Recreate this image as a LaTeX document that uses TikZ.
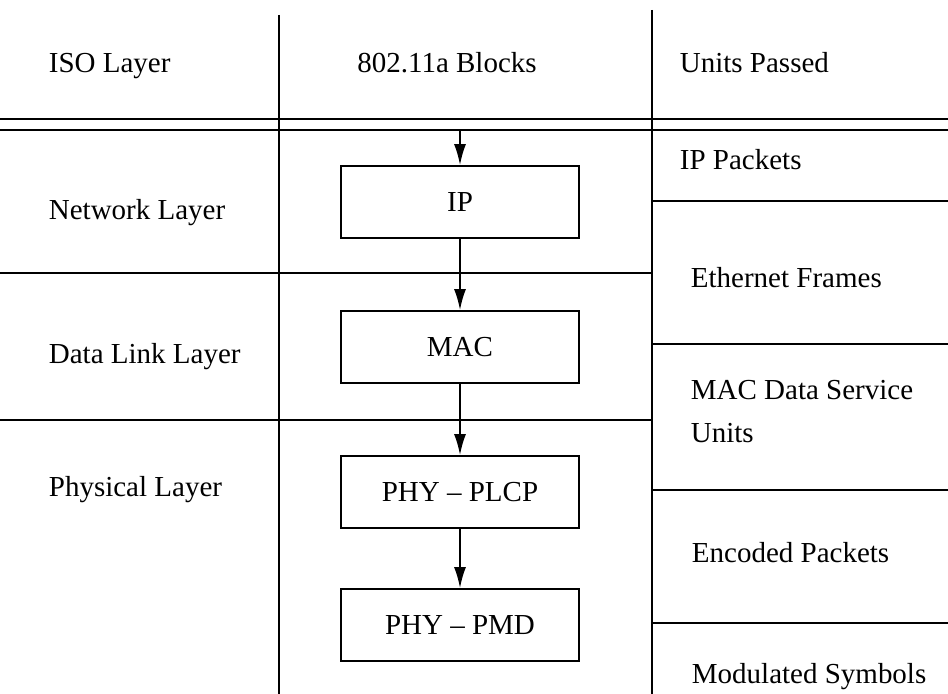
\documentclass[tikz,border=0pt]{standalone}
\usepackage{fontspec}
\setmainfont{Liberation Serif}
\usetikzlibrary{arrows.meta,positioning}

\begin{document}
\begin{tikzpicture}[x=0.5pt,y=-0.5pt,>={Latex[length=10.5pt,width=6pt]},
    font=\fontsize{14.5}{17.5}\selectfont,line width=0.9pt,
    blk/.style={draw,minimum width=119pt,minimum height=36pt,inner sep=0pt},
    lbl/.style={anchor=base west,inner sep=0pt,align=left}]
    \useasboundingbox (0,0) rectangle (948,694);
    % table rules
    \draw (279,15) -- (279,694);
    \draw (652,10) -- (652,694);
    \draw (0,119) -- (948,119);
    \draw (0,130) -- (948,130);
    \draw (0,273) -- (652,273);
    \draw (0,420) -- (652,420);
    \draw (652,201) -- (948,201);
    \draw (652,344) -- (948,344);
    \draw (652,490) -- (948,490);
    \draw (652,623) -- (948,623);
    % headings
    \node[lbl] (hiso) at (48,73) {ISO Layer};
    \node[anchor=base,inner sep=0pt] (hblk) at (447,73) {802.11a Blocks};
    \node[lbl] (hunit) at (679,73) {Units Passed};
    % ISO layers
    \node[lbl] (net) at (48,220) {Network Layer};
    \node[lbl] (dll) at (48,364) {Data Link Layer};
    \node[lbl] (phl) at (48,497) {Physical Layer};
    % blocks
    \coordinate (in) at (460,131);
    \node[blk] (ip) at (460,202) {IP};
    \node[blk] (mac) at (460,347) {MAC};
    \node[blk] (plcp) at (460,492) {PHY -- PLCP};
    \node[blk] (pmd) at (460,625) {PHY -- PMD};
    \draw[->] (in) -- (ip);
    \draw[->] (ip) -- (mac);
    \draw[->] (mac) -- (plcp);
    \draw[->] (plcp) -- (pmd);
    % units
    \node[lbl] (ippk) at (679,170) {IP Packets};
    \node[lbl] (eth) at (690,288) {Ethernet Frames};
    \node[lbl] (msdu) at (690,443) {MAC Data Service\\[4pt]Units};
    \node[lbl] (enc) at (691,563) {Encoded Packets};
    \node[lbl] (mod) at (691,683) {Modulated Symbols};
\end{tikzpicture}
\end{document}
